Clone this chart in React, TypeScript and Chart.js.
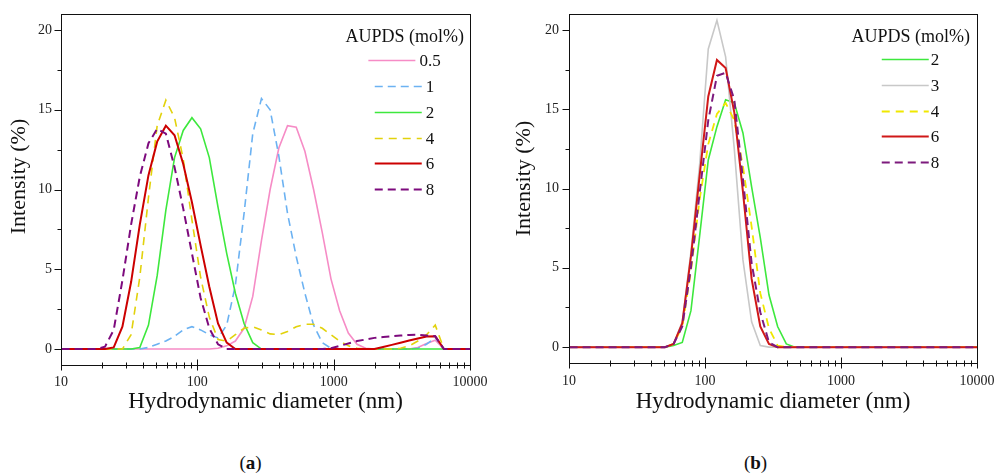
import React, { useEffect, useRef } from "react";
import { Chart, registerables } from "chart.js";

Chart.register(...registerables);

const FONT = '"Liberation Serif", "Times New Roman", Times, serif';

// DLS size classes (nm)
const sizes = [
  10.1, 11.7, 13.54, 15.69, 18.17, 21.04, 24.36, 28.21, 32.67, 37.84,
  43.82, 50.75, 58.77, 68.06, 78.82, 91.28, 105.7, 122.4, 141.8, 164.2,
  190.1, 220.2, 255, 295.3, 342, 396.1, 458.7, 531.2, 615.1, 712.4,
  825, 955.4, 1106, 1281, 1484, 1718, 1990, 2305, 2669, 3091,
  3580, 4145, 4801, 5560, 6439, 7456, 8635, 10000,
];

const xLabelTicks = [10, 100, 1000, 10000];
const xMinorMultipliers = [2, 3, 4, 5, 6, 7, 8, 9];
const yLabelTicks = [0, 5, 10, 15, 20];
const yMinorTicks = [2.5, 7.5, 12.5, 17.5];

const legendTitle = "AUPDS (mol%)";
const xTitle = "Hydrodynamic diameter (nm)";
const yTitle = "Intensity (%)";

// Panel (a)
const labelsA = ["0.5", "1", "2", "4", "6", "8"];
const a05 = [
  0, 0, 0, 0, 0, 0, 0, 0, 0, 0,
  0, 0, 0, 0, 0, 0, 0, 0, 0.05, 0.2,
  0.5, 1.3, 3.3, 6.8, 10.0, 12.6, 14.0, 13.9, 12.4, 10.0,
  7.3, 4.4, 2.4, 1.0, 0.3, 0.05, 0, 0, 0, 0,
  0, 0.1, 0.35, 0.55, 0, 0, 0, 0,
];
const a1 = [
  0, 0, 0, 0, 0, 0, 0, 0, 0, 0,
  0.1, 0.3, 0.5, 0.8, 1.2, 1.4, 1.2, 0.9, 0.7, 1.5,
  4.0, 8.5, 13.5, 15.7, 15.0, 12.1, 8.5, 5.8, 3.5, 1.5,
  0.4, 0.05, 0, 0, 0, 0, 0, 0, 0, 0,
  0, 0.05, 0.3, 0.7, 0, 0, 0, 0,
];
const a2 = [
  0, 0, 0, 0, 0, 0, 0, 0, 0, 0.1,
  1.5, 4.6, 8.7, 12.0, 13.7, 14.5, 13.8, 12.0, 8.9, 6.0,
  3.5, 1.6, 0.4, 0, 0, 0, 0, 0, 0, 0,
  0, 0, 0, 0, 0, 0, 0, 0, 0, 0,
  0, 0, 0, 0, 0, 0, 0, 0,
];
const a4 = [
  0, 0, 0, 0, 0, 0, 0, 0, 0.9, 4.5,
  9.5, 14.0, 15.6, 14.5, 11.9, 8.1, 4.5, 2.0, 0.6, 0.5,
  0.9, 1.3, 1.4, 1.2, 0.95, 0.9, 1.1, 1.4, 1.55, 1.55,
  1.3, 0.9, 0.5, 0.2, 0.05, 0, 0, 0, 0, 0.05,
  0.2, 0.5, 0.9, 1.5, 0, 0, 0, 0,
];
const a6 = [
  0, 0, 0, 0, 0, 0, 0.1, 1.4, 4.2, 7.8,
  10.9, 13.0, 14.0, 13.4, 11.6, 9.2, 6.5, 3.9, 1.6, 0.4,
  0, 0, 0, 0, 0, 0, 0, 0, 0, 0,
  0, 0, 0, 0, 0, 0, 0, 0.13, 0.26, 0.4,
  0.53, 0.66, 0.79, 0.8, 0, 0, 0, 0,
];
const a8 = [
  0, 0, 0, 0, 0, 0.15, 1.2, 4.3, 7.8, 10.8,
  12.9, 13.8, 13.5, 11.4, 8.8, 6.0, 3.2, 1.3, 0.3, 0,
  0, 0, 0, 0, 0, 0, 0, 0, 0, 0,
  0, 0.05, 0.2, 0.35, 0.5, 0.6, 0.7, 0.75, 0.8, 0.85,
  0.88, 0.9, 0.85, 0.8, 0, 0, 0, 0,
];

// Panel (b)
const labelsB = ["2", "3", "4", "6", "8"];
const b2 = [
  0, 0, 0, 0, 0, 0, 0, 0, 0, 0,
  0, 0, 0.1, 0.3, 2.3, 7.0, 11.8, 13.9, 15.6, 15.4,
  13.5, 10.1, 6.9, 3.3, 1.3, 0.2, 0, 0, 0, 0,
  0, 0, 0, 0, 0, 0, 0, 0, 0, 0,
  0, 0, 0, 0, 0, 0, 0, 0,
];
const b3 = [
  0, 0, 0, 0, 0, 0, 0, 0, 0, 0,
  0, 0, 0.2, 1.6, 6.0, 11.5, 18.8, 20.6, 18.3, 12.5,
  5.5, 1.6, 0.1, 0, 0, 0, 0, 0, 0, 0,
  0, 0, 0, 0, 0, 0, 0, 0, 0, 0,
  0, 0, 0, 0, 0, 0, 0, 0,
];
const b4 = [
  0, 0, 0, 0, 0, 0, 0, 0, 0, 0,
  0, 0, 0.2, 1.3, 4.8, 9.3, 12.8, 14.7, 15.4, 14.3,
  11.4, 7.6, 3.4, 1.2, 0.1, 0, 0, 0, 0, 0,
  0, 0, 0, 0, 0, 0, 0, 0, 0, 0,
  0, 0, 0, 0, 0, 0, 0, 0,
];
const b6 = [
  0, 0, 0, 0, 0, 0, 0, 0, 0, 0,
  0, 0, 0.2, 1.5, 5.7, 10.8, 15.8, 18.1, 17.6, 14.8,
  9.8, 4.3, 1.3, 0.2, 0, 0, 0, 0, 0, 0,
  0, 0, 0, 0, 0, 0, 0, 0, 0, 0,
  0, 0, 0, 0, 0, 0, 0, 0,
];
const b8 = [
  0, 0, 0, 0, 0, 0, 0, 0, 0, 0,
  0, 0, 0.2, 1.3, 5.0, 9.7, 14.3, 17.1, 17.3, 15.6,
  10.6, 5.3, 2.2, 0.3, 0, 0, 0, 0, 0, 0,
  0, 0, 0, 0, 0, 0, 0, 0, 0, 0,
  0, 0, 0, 0, 0, 0, 0, 0,
];

const valuesA = [a05, a1, a2, a4, a6, a8];
const valuesB = [b2, b3, b4, b6, b8];

const stylesA = [
  { color: "#f68cc6", dash: [] as number[], width: 1.6 },
  { color: "#6cb2f2", dash: [8, 5], width: 1.6 },
  { color: "#3de83d", dash: [] as number[], width: 1.6 },
  { color: "#e2d20c", dash: [8, 6], width: 1.6 },
  { color: "#cc0000", dash: [] as number[], width: 2 },
  { color: "#7d0a7d", dash: [8, 5], width: 2 },
];
const stylesB = [
  { color: "#3de83d", dash: [] as number[], width: 1.6 },
  { color: "#c8c8c8", dash: [] as number[], width: 1.6 },
  { color: "#f0e800", dash: [8, 6], width: 1.8 },
  { color: "#d01818", dash: [] as number[], width: 2 },
  { color: "#7d1a7d", dash: [8, 5], width: 2 },
];

type PanelCfg = {
  left: number;
  labels: string[];
  values: number[][];
  styles: { color: string; dash: number[]; width: number }[];
  padRight: number;
  yAxisWidth: number;
  xAxisHeight: number;
  xTickPad: number;
  yTickPad: number;
  yTitleX: number;
  yTitleY: number;
  legendTitleRight: number;
  legendTitleBaseline: number;
  legendFirstY: number;
  legendStep: number;
  legendLabelCenter: number;
  legendGap: number;
  legendLineLen: number;
};

const panelA: PanelCfg = {
  left: 0,
  labels: labelsA,
  values: valuesA,
  styles: stylesA,
  padRight: 27,
  yAxisWidth: 61,
  xAxisHeight: 51,
  xTickPad: 9,
  yTickPad: 9,
  yTitleX: 19,
  yTitleY: 176.5,
  legendTitleRight: 464,
  legendTitleBaseline: 41.5,
  legendFirstY: 60.2,
  legendStep: 25.8,
  legendLabelCenter: 430,
  legendGap: 4,
  legendLineLen: 47,
};

const panelB: PanelCfg = {
  left: 497,
  labels: labelsB,
  values: valuesB,
  styles: stylesB,
  padRight: 17,
  yAxisWidth: 72,
  xAxisHeight: 53,
  xTickPad: 10,
  yTickPad: 10,
  yTitleX: 27,
  yTitleY: 178.5,
  legendTitleRight: 473,
  legendTitleBaseline: 41.7,
  legendFirstY: 59.3,
  legendStep: 25.6,
  legendLabelCenter: 438,
  legendGap: 2,
  legendLineLen: 47,
};

function makeDecor(cfg: PanelCfg) {
  return {
    id: "decor",
    afterDraw(chart: any) {
      const { ctx, chartArea } = chart;
      const { left, right, top, bottom } = chartArea;
      const xs = chart.scales.x;
      const ys = chart.scales.y;
      ctx.save();
      ctx.setLineDash([]);
      ctx.strokeStyle = "#111";
      ctx.lineWidth = 1;
      const L = Math.round(left) + 0.5;
      const B = Math.round(bottom) + 0.5;
      ctx.strokeRect(L, Math.round(top) + 0.5, Math.round(right - left), Math.round(bottom - top));
      ctx.beginPath();
      yLabelTicks.forEach((v) => {
        const p = Math.round(ys.getPixelForValue(v)) + 0.5;
        ctx.moveTo(L - 7, p);
        ctx.lineTo(L, p);
      });
      yMinorTicks.forEach((v) => {
        const p = Math.round(ys.getPixelForValue(v)) + 0.5;
        ctx.moveTo(L - 4, p);
        ctx.lineTo(L, p);
      });
      xLabelTicks.forEach((d) => {
        const p = Math.round(xs.getPixelForValue(d)) + 0.5;
        ctx.moveTo(p, B - 6);
        ctx.lineTo(p, B + 5);
      });
      xLabelTicks.slice(0, 3).forEach((d) => {
        xMinorMultipliers.forEach((m) => {
          const p = Math.round(xs.getPixelForValue(d * m)) + 0.5;
          ctx.moveTo(p, B - 3);
          ctx.lineTo(p, B + 3);
        });
      });
      ctx.stroke();

      // y-axis title
      ctx.save();
      ctx.fillStyle = "#111";
      ctx.font = `22px ${FONT}`;
      ctx.textAlign = "center";
      ctx.textBaseline = "middle";
      ctx.translate(cfg.yTitleX, cfg.yTitleY);
      ctx.rotate(-Math.PI / 2);
      ctx.fillText(yTitle, 0, 0);
      ctx.restore();

      // legend
      ctx.fillStyle = "#111";
      ctx.font = `18px ${FONT}`;
      ctx.textAlign = "right";
      ctx.textBaseline = "alphabetic";
      ctx.fillText(legendTitle, cfg.legendTitleRight, cfg.legendTitleBaseline);
      ctx.font = `17px ${FONT}`;
      chart.data.datasets.forEach((ds: any, i: number) => {
        const y = cfg.legendFirstY + i * cfg.legendStep;
        const w = ctx.measureText(ds.label).width;
        const labelLeft = cfg.legendLabelCenter - w / 2;
        const x1 = labelLeft - cfg.legendGap;
        const x0 = x1 - cfg.legendLineLen;
        ctx.save();
        ctx.strokeStyle = ds.borderColor;
        ctx.lineWidth = ds.borderWidth;
        ctx.setLineDash(ds.borderDash || []);
        ctx.beginPath();
        ctx.moveTo(x0, Math.round(y) + 0.5);
        ctx.lineTo(x1, Math.round(y) + 0.5);
        ctx.stroke();
        ctx.restore();
        ctx.textAlign = "left";
        ctx.fillStyle = "#111";
        ctx.fillText(ds.label, labelLeft, y + 6);
      });
      ctx.restore();
    },
  };
}

function Panel({ cfg }: { cfg: PanelCfg }) {
  const ref = useRef<HTMLCanvasElement>(null);
  useEffect(() => {
    const n = cfg.labels.length;
    const chart = new Chart(ref.current as HTMLCanvasElement, {
      type: "line",
      data: {
        datasets: cfg.labels.map((label, i) => ({
          label,
          data: sizes.map((x, k) => ({ x, y: cfg.values[i][k] })),
          borderColor: cfg.styles[i].color,
          borderWidth: cfg.styles[i].width,
          borderDash: cfg.styles[i].dash,
          pointRadius: 0,
          tension: 0,
          fill: false,
          order: n - i,
        })),
      },
      options: {
        responsive: false,
        animation: false,
        devicePixelRatio: 1,
        layout: { padding: { left: 0, right: cfg.padRight, top: 14, bottom: 4 } },
        plugins: {
          legend: { display: false },
          tooltip: { enabled: false },
          title: { display: false },
        },
        scales: {
          x: {
            type: "logarithmic",
            min: 10,
            max: 10000,
            grid: { display: false, drawTicks: false },
            border: { display: false },
            afterBuildTicks: (s: any) => {
              s.ticks = xLabelTicks.map((v) => ({ value: v }));
            },
            afterFit: (s: any) => {
              s.height = cfg.xAxisHeight;
              s.paddingLeft = 0;
              s.paddingRight = 0;
              s.paddingTop = 0;
              s.paddingBottom = 0;
            },
            ticks: {
              autoSkip: false,
              maxRotation: 0,
              minRotation: 0,
              padding: cfg.xTickPad,
              color: "#222",
              font: { family: FONT, size: 14 },
              callback: (v: any) => String(v),
            },
            title: {
              display: true,
              text: xTitle,
              color: "#111",
              font: { family: FONT, size: 23 },
              padding: 0,
            },
          },
          y: {
            type: "linear",
            min: -1,
            max: 21,
            grid: { display: false, drawTicks: false },
            border: { display: false },
            afterBuildTicks: (s: any) => {
              s.ticks = yLabelTicks.map((v) => ({ value: v }));
            },
            afterFit: (s: any) => {
              s.width = cfg.yAxisWidth;
              s.paddingLeft = 0;
              s.paddingRight = 0;
              s.paddingTop = 0;
              s.paddingBottom = 0;
            },
            ticks: {
              padding: cfg.yTickPad,
              color: "#222",
              font: { family: FONT, size: 14 },
            },
          },
        },
      } as any,
      plugins: [makeDecor(cfg) as any],
    });
    return () => chart.destroy();
  }, []);
  return (
    <canvas
      ref={ref}
      width={497}
      height={420}
      style={{ position: "absolute", left: cfg.left, top: 0, width: 497, height: 420 }}
    />
  );
}

export default function App() {
  return (
    <div
      style={{
        position: "fixed",
        left: 0,
        top: 0,
        width: 994,
        height: 475,
        background: "#ffffff",
        overflow: "hidden",
      }}
    >
      <Panel cfg={panelA} />
      <Panel cfg={panelB} />
      <div
        style={{
          position: "absolute",
          left: 0,
          width: 501,
          top: 452,
          textAlign: "center",
          fontFamily: FONT,
          fontSize: 19,
          lineHeight: "22px",
          color: "#111",
        }}
      >
        (<b>a</b>)
      </div>
      <div
        style={{
          position: "absolute",
          left: 505,
          width: 501,
          top: 452,
          textAlign: "center",
          fontFamily: FONT,
          fontSize: 19,
          lineHeight: "22px",
          color: "#111",
        }}
      >
        (<b>b</b>)
      </div>
    </div>
  );
}
